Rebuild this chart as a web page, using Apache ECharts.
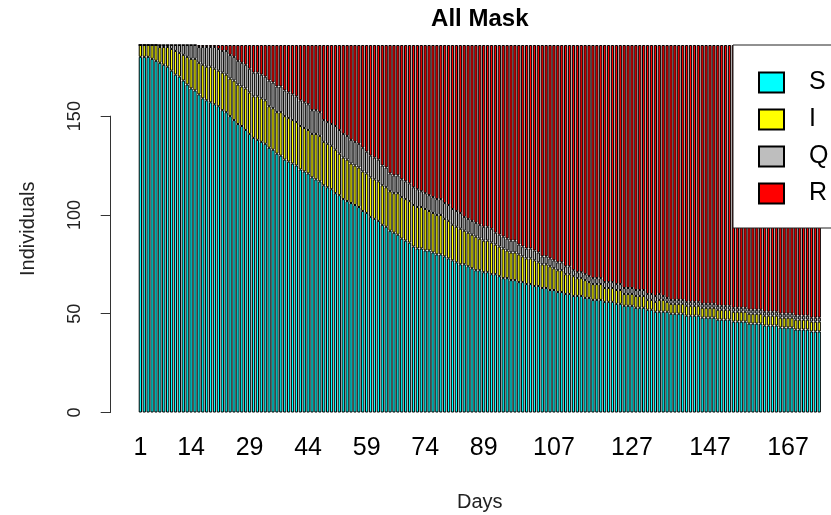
<!DOCTYPE html>
<html>
<head>
<meta charset="utf-8">
<script src="https://cdn.jsdelivr.net/npm/echarts@6/dist/echarts.min.js"></script>
<style>
  html, body { margin: 0; padding: 0; background: #fff; }
  #chart { width: 831px; height: 515px; }
</style>
</head>
<body>
<div id="chart"></div>
<script>
// Daily counts of a SIQR outbreak (S, I, Q, R) for the "All Mask" scenario
const S = [
180,180,180,179,178,177,176,175,173,171,
170,168,166,164,163,161,159,158,157,156,
155,153,152,150,148,146,145,143,141,139,
138,137,136,134,133,131,130,128,127,126,
125,123,122,121,119,118,117,115,114,113,
111,110,108,107,106,105,104,102,101,99,
98,97,95,94,92,91,90,88,87,86,
84,83,83,82,82,81,80,80,79,78,
77,76,75,75,74,73,72,72,71,71,
70,70,69,68,68,67,67,66,66,65,
65,64,64,63,63,62,62,61,61,60,
60,59,59,59,58,58,57,57,57,56,
56,56,55,55,54,54,54,53,53,53,
52,52,51,51,51,51,50,50,50,50,
49,49,49,49,48,48,48,48,47,47,
47,47,46,46,46,46,45,45,45,45,
44,44,44,44,43,43,43,43,42,42,
42,42,41,41,41];

const I = [
6,6,6,7,8,8,9,10,11,12,
12,13,14,15,16,16,17,17,18,18,
18,19,19,19,20,20,20,21,21,21,
22,22,22,21,21,21,22,22,22,22,
22,22,22,22,22,23,23,22,22,22,
22,21,21,21,20,20,20,20,20,20,
20,20,20,20,20,20,21,21,21,21,
21,21,21,21,20,20,20,20,19,19,
18,18,18,17,17,17,17,16,16,16,
16,15,15,15,14,14,14,14,13,13,
13,13,12,12,12,12,11,11,11,10,
10,10,9,9,9,8,8,8,8,7,
7,7,7,7,6,6,6,6,6,6,
5,5,5,6,6,5,5,5,5,5,
5,5,5,5,5,5,5,5,5,5,
5,5,5,5,5,5,5,5,5,5,
5,5,5,5,5,5,5,5,5,5,
5,5,5,5,5];

const Q = [
0,0,0,0,0,1,1,1,2,3,
4,5,6,7,7,8,9,10,10,11,
11,11,12,12,12,12,12,12,12,12,
12,12,12,13,13,13,13,13,13,13,
13,13,13,13,12,12,12,11,11,11,
12,12,12,12,12,12,12,12,11,11,
11,11,10,10,9,9,9,9,9,9,
9,9,8,8,8,8,8,8,8,8,
8,8,8,7,7,7,7,7,7,7,
7,6,6,6,6,6,6,5,5,5,
5,5,5,4,4,4,4,4,4,4,
4,3,3,3,3,3,3,3,3,3,
3,3,3,3,3,3,3,3,3,3,
3,3,3,3,2,2,2,2,2,2,
2,2,2,2,2,2,2,2,2,2,
2,2,2,2,2,2,2,2,2,2,
2,2,2,2,2,2,2,2,2,2,
2,2,2,2,2];

const R = [
0,0,0,0,0,0,0,0,0,0,
0,0,0,0,0,1,1,1,1,1,
2,3,3,5,6,8,9,10,12,14,
14,15,16,18,19,21,21,23,24,25,
26,28,29,30,33,33,34,38,39,40,
41,43,45,46,48,49,50,52,54,56,
57,58,61,62,65,66,66,68,69,70,
72,73,74,75,76,77,78,78,80,81,
83,84,85,87,88,89,90,91,92,92,
93,95,96,97,98,99,99,101,102,103,
103,104,105,107,107,108,109,110,110,112,
112,114,115,115,116,117,118,118,118,120,
120,120,121,121,123,123,123,124,124,124,
126,126,127,126,127,128,129,129,129,129,
130,130,130,130,131,131,131,131,132,132,
132,132,133,133,133,133,134,134,134,134,
135,135,135,135,136,136,136,136,137,137,
137,137,138,138,138];

const days = [];
for (let d = 1; d <= S.length; d++) days.push(String(d));

const xTickDays = ['1', '14', '29', '44', '59', '74', '89', '107', '127', '147', '167'];
const yTicks = [0, 50, 100, 150];
const population = 186;

const FONT = '"Liberation Sans", Arial, Helvetica, sans-serif';
const COLORS = { S: '#00FFFF', I: '#FFFF00', Q: '#BEBEBE', R: '#FF0000' };

// plot frame (pixels)
const PLOT_LEFT = 138.4;
const PLOT_RIGHT_EDGE = 821.2;
const PLOT_TOP = 45;
const PLOT_BOTTOM = 412.5;
const PX_PER_UNIT = (PLOT_BOTTOM - PLOT_TOP) / population;

const chart = echarts.init(document.getElementById('chart'), null, { renderer: 'canvas' });

function barSeries(name, data) {
  return {
    name: name,
    type: 'bar',
    stack: 'total',
    data: data,
    xAxisIndex: 0,
    yAxisIndex: 0,
    barCategoryGap: '16.67%',
    itemStyle: { color: COLORS[name], borderColor: '#000', borderWidth: 1 },
    emphasis: { disabled: true },
    animation: false
  };
}

chart.setOption({
  animation: false,
  backgroundColor: '#fff',
  title: {
    text: 'All Mask',
    left: (PLOT_LEFT + PLOT_RIGHT_EDGE) / 2,
    textAlign: 'center',
    top: 7,
    padding: 0,
    textStyle: { fontFamily: FONT, fontWeight: 'bold', fontSize: 24, color: '#000' }
  },
  legend: {
    orient: 'vertical',
    left: 733,
    top: 45,
    padding: [25, 60, 22, 25],
    itemWidth: 25,
    itemHeight: 20,
    itemGap: 12,
    backgroundColor: '#fff',
    borderColor: '#222',
    borderWidth: 1,
    icon: 'rect',
    selectedMode: false,
    data: ['S', 'I', 'Q', 'R'],
    textStyle: { fontFamily: FONT, fontSize: 25, color: '#000', padding: [0, 0, 0, 20], lineHeight: 20 }
  },
  grid: [
    {
      left: PLOT_LEFT,
      top: PLOT_TOP,
      width: PLOT_RIGHT_EDGE - PLOT_LEFT,
      height: PLOT_BOTTOM - PLOT_TOP,
      containLabel: false,
      outerBoundsMode: 'none'
    },
    {
      left: 110.7,
      top: PLOT_BOTTOM - 150 * PX_PER_UNIT,
      width: 5,
      height: 150 * PX_PER_UNIT,
      containLabel: false,
      outerBoundsMode: 'none'
    }
  ],
  xAxis: [
    {
      type: 'category',
      gridIndex: 0,
      data: days,
      boundaryGap: true,
      axisLine: { show: false },
      axisTick: { show: false },
      splitLine: { show: false },
      axisLabel: {
        interval: function (index, value) { return xTickDays.indexOf(value) !== -1; },
        fontFamily: FONT,
        fontSize: 25,
        color: '#000',
        margin: 23
      },
      name: 'Days',
      nameLocation: 'middle',
      nameGap: 80,
      nameTextStyle: { fontFamily: FONT, fontSize: 20, color: '#222' }
    },
    {
      type: 'value',
      gridIndex: 1,
      show: false
    }
  ],
  yAxis: [
    {
      type: 'value',
      gridIndex: 0,
      min: 0,
      max: population,
      axisLine: { show: false },
      axisTick: { show: false },
      axisLabel: { show: false },
      splitLine: { show: false },
      name: 'Individuals',
      nameLocation: 'middle',
      nameGap: 100,
      nameTextStyle: { fontFamily: FONT, fontSize: 20, color: '#222' }
    },
    {
      type: 'value',
      gridIndex: 1,
      min: yTicks[0],
      max: yTicks[yTicks.length - 1],
      interval: 50,
      position: 'left',
      axisLine: { show: true, lineStyle: { color: '#333', width: 1 } },
      axisTick: { show: true, length: 10, lineStyle: { color: '#333', width: 1 } },
      splitLine: { show: false },
      axisLabel: {
        rotate: 90,
        fontFamily: FONT,
        fontSize: 18,
        color: '#222',
        margin: 27
      }
    }
  ],
  series: [
    barSeries('S', S),
    barSeries('I', I),
    barSeries('Q', Q),
    barSeries('R', R)
  ]
});
</script>
</body>
</html>
